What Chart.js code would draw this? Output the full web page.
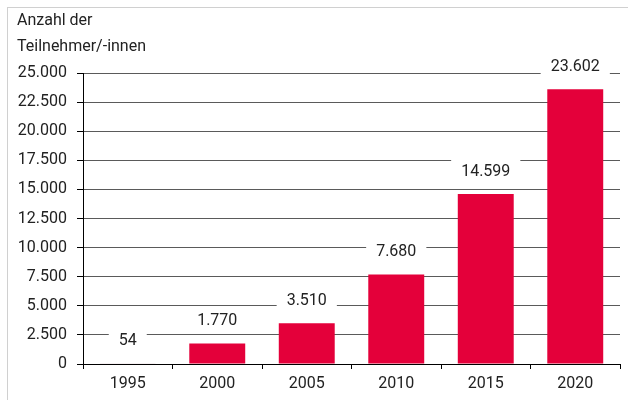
<!DOCTYPE html>
<html>
<head>
<meta charset="utf-8">
<script src="https://cdn.jsdelivr.net/npm/chart.js@4/dist/chart.umd.min.js"></script>
<style>
  html, body { margin: 0; padding: 0; background: #fff; }
  #wrap { position: relative; width: 628px; height: 400px; }
  #frame { position: absolute; left: 7px; top: 7px; width: 640px; height: 400px;
           border-left: 1px solid #d0d0d0; border-top: 1px solid #d0d0d0; box-sizing: border-box; }
  canvas { position: absolute; left: 0; top: 0; }
</style>
</head>
<body>
<div id="wrap">
  <div id="frame"></div>
  <canvas id="c" width="628" height="400"></canvas>
</div>
<script>
const categories = ['1995', '2000', '2005', '2010', '2015', '2020'];
const participants = [54, 1770, 3510, 7680, 14599, 23602];
const yTicks = [0, 2500, 5000, 7500, 10000, 12500, 15000, 17500, 20000, 22500, 25000];
const axisTitle = ['Anzahl der', 'Teilnehmer/-innen'];

const FONT = "Roboto, 'Open Sans', sans-serif";
const FSIZE = 16;
const TEXT = '#222222';
const fmt = v => v.toString().replace(/\B(?=(\d{3})+(?!\d))/g, '.');

const titlePlugin = {
  id: 'topTitle',
  afterDraw(chart) {
    const ctx = chart.ctx;
    ctx.save();
    ctx.font = FSIZE + 'px ' + FONT;
    ctx.fillStyle = TEXT;
    ctx.textAlign = 'left';
    ctx.textBaseline = 'middle';
    ctx.fillText(axisTitle[0], 17, 21);
    ctx.fillText(axisTitle[1], 17, 47);
    ctx.restore();
  }
};

const labelPlugin = {
  id: 'valueLabels',
  afterDatasetsDraw(chart) {
    const ctx = chart.ctx;
    const meta = chart.getDatasetMeta(0);
    ctx.save();
    ctx.font = FSIZE + 'px ' + FONT;
    ctx.textAlign = 'center';
    ctx.textBaseline = 'middle';
    meta.data.forEach((bar, i) => {
      const txt = fmt(participants[i]);
      const w = ctx.measureText(txt).width;
      const cy = bar.y - 22.5;
      ctx.fillStyle = '#ffffff';
      ctx.fillRect(bar.x - w / 2 - 10, cy - 12, w + 20, 25);
      ctx.fillStyle = TEXT;
      ctx.fillText(txt, bar.x, cy);
    });
    ctx.restore();
  }
};

new Chart(document.getElementById('c'), {
  type: 'bar',
  data: {
    labels: categories,
    datasets: [{
      data: participants,
      backgroundColor: '#e4003a',
      borderColor: participants.map(v => v < 200 ? '#7a1f3d' : '#e4003a'),
      borderWidth: participants.map(v => v < 200 ? {top: 1, left: 0, right: 0, bottom: 0} : 0),
      borderSkipped: 'bottom',
      barPercentage: 0.625,
      categoryPercentage: 1.0
    }]
  },
  options: {
    responsive: false,
    animation: false,
    devicePixelRatio: 1,
    layout: { padding: { left: 17, right: 8, top: 73, bottom: 0 } },
    plugins: {
      legend: { display: false },
      tooltip: { enabled: false },
      title: { display: false }
    },
    scales: {
      x: {
        offset: true,
        grid: {
          offset: true,
          drawOnChartArea: false,
          drawTicks: true,
          tickLength: 5,
          color: '#000000'
        },
        border: { display: true, color: '#000000', width: 1 },
        ticks: { color: TEXT, font: { family: FONT, size: FSIZE }, padding: 5 },
        afterFit(s) { s.height = 36; }
      },
      y: {
        min: 0,
        max: 25000,
        afterBuildTicks(s) { s.ticks = yTicks.map(v => ({ value: v })); },
        grid: {
          color: '#5a5a5a',
          lineWidth: 1,
          drawTicks: true,
          tickLength: 6,
          tickColor: '#000000'
        },
        border: { display: true, color: '#000000', width: 1 },
        ticks: {
          color: TEXT,
          font: { family: FONT, size: FSIZE },
          padding: 10,
          callback: v => fmt(v)
        },
        afterFit(s) { s.width = 66; }
      }
    }
  },
  plugins: [titlePlugin, labelPlugin]
});
</script>
</body>
</html>
